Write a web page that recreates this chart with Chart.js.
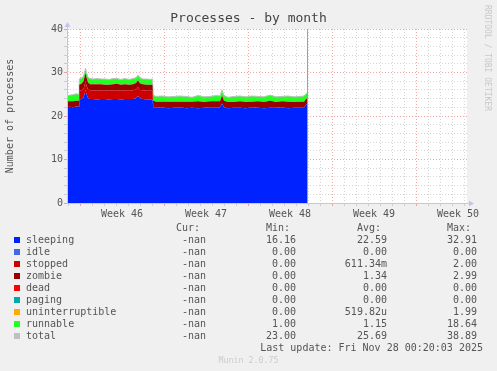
<!DOCTYPE html>
<html>
<head>
<meta charset="utf-8">
<title>Processes - by month</title>
<script src="https://cdn.jsdelivr.net/npm/chart.js@4.4.1/dist/chart.umd.min.js"></script>
<style>
    body { margin: 0; background: #f0f0f0; }
    #wrap {
        position: relative;
        width: 497px;
        height: 371px;
        font-family: 'DejaVu Sans Mono', monospace;
        font-size: 10px;
        color: #555;
    }
    #wrap canvas { position: absolute; left: 0; top: 0; }
    .t { position: absolute; white-space: pre; line-height: 12px; }
    .sw { position: absolute; width: 6px; height: 6px; }
    #rrd {
        position: absolute;
        left: 482px;
        top: 5px;
        writing-mode: vertical-rl;
        font-size: 8px;
        line-height: 11px;
        color: #c8c8c8;
    }
    #ver {
        position: absolute;
        left: 0;
        width: 497px;
        top: 355px;
        text-align: center;
        font-size: 8.3px;
        line-height: 10px;
        color: #cccccc;
    }
</style>
</head>
<body>
<div id="wrap">
    <canvas id="processes-chart" width="497" height="371"></canvas>
    <div id="rrd">RRDTOOL / TOBI OETIKER</div>
    <div id="legend"></div>
    <div id="ver">Munin 2.0.75</div>
</div>
<script>
// Zeitachse in Stunden ab Sonntag 09.11.2025 00:00 (Beginn Woche 46)
const hours = [
    -26, -20, -14, -8, -2,
    -1.5, 3, 7, 9, 11, 13, 16, 20, 26, 34, 42, 50, 58, 66, 74, 82, 90, 98, 106, 112, 116, 120, 126, 134, 140, 145,
    146.5, 152, 164, 176, 188, 200, 212, 224, 236, 248, 260, 272, 280, 284, 288, 296, 308, 320, 332, 344, 356, 368,
    380, 392, 404, 416, 428, 440, 448, 452, 455
];

const sleeping = [
    22.0, 22.1, 22.0, 22.2, 22.1,
    23.8, 23.9, 24.2, 25.0, 26.0, 25.0, 24.1, 23.9, 23.9, 23.8, 23.9, 23.9, 23.8, 23.9, 23.9, 23.8, 23.9, 23.9, 23.9,
    24.1, 24.6, 24.0, 23.9, 23.8, 23.8, 23.8,
    22.0, 21.9, 22.0, 21.8, 21.9, 22.0, 21.8, 21.9, 21.8, 21.9, 22.0, 21.9, 22.0, 22.9, 22.0, 21.8, 21.9, 21.9, 21.8,
    22.0, 21.9, 21.8, 21.9, 21.9, 22.0, 21.8, 21.9, 21.9, 21.9, 22.6, 22.9
];

const stopped = [
    0, 0, 0, 0, 0,
    2.0, 2.0, 2.0, 2.0, 2.0, 2.0, 2.0, 2.0, 2.0, 2.0, 2.0, 2.0, 2.0, 2.0, 2.0, 2.0, 2.0, 2.0, 2.0,
    2.0, 2.0, 2.0, 2.0, 2.0, 2.0, 2.0,
    0, 0, 0, 0, 0, 0, 0, 0, 0, 0, 0, 0, 0, 0, 0, 0, 0, 0, 0,
    0, 0, 0, 0, 0, 0, 0, 0, 0, 0, 0, 0
];

const zombie = [
    1.4, 1.3, 1.4, 1.3, 1.4,
    1.4, 1.5, 1.8, 1.9, 1.9, 1.9, 1.6, 1.4, 1.4, 1.5, 1.4, 1.3, 1.4, 1.4, 1.5, 1.4, 1.4, 1.3, 1.4,
    1.5, 1.6, 1.5, 1.4, 1.4, 1.4, 1.4,
    1.5, 1.4, 1.3, 1.5, 1.4, 1.3, 1.5, 1.4, 1.6, 1.3, 1.4, 1.5, 1.4, 1.8, 1.5, 1.4, 1.3, 1.5, 1.4,
    1.3, 1.5, 1.4, 1.6, 1.3, 1.4, 1.5, 1.3, 1.4, 1.4, 1.3, 1.3
];

const runnable = [
    1.3, 1.4, 1.5, 1.6, 1.5,
    1.3, 1.3, 1.2, 1.1, 1.1, 1.1, 1.2, 1.3, 1.2, 1.3, 1.2, 1.3, 1.2, 1.3, 1.2, 1.2, 1.3, 1.2, 1.3,
    1.2, 1.2, 1.3, 1.2, 1.3, 1.2, 1.3,
    1.3, 1.2, 1.3, 1.1, 1.2, 1.3, 1.2, 1.0, 1.3, 1.2, 1.1, 1.3, 1.2, 1.3, 1.2, 1.1, 1.3, 1.2, 1.2,
    1.3, 1.1, 1.2, 1.3, 1.2, 1.1, 1.3, 1.2, 1.2, 1.3, 1.2, 1.2
];

// Zeitpunkt der letzten Aktualisierung (Fr 28.11. 00:20)
const nowHour = 454;

const xMin = -26;
const xMax = 774;
const weekLabels = ['Week 46', 'Week 47', 'Week 48', 'Week 49', 'Week 50'];

// Legendentabelle
const legendNames = ['sleeping', 'idle', 'stopped', 'zombie', 'dead', 'paging', 'uninterruptible', 'runnable', 'total'];
const curValues = ['-nan', '-nan', '-nan', '-nan', '-nan', '-nan', '-nan', '-nan', '-nan'];
const minValues = ['16.16', '0.00', '0.00', '0.00', '0.00', '0.00', '0.00', '1.00', '23.00'];
const avgValues = ['22.59', '0.00', '611.34m', '1.34', '0.00', '0.00', '519.82u', '1.15', '25.69'];
const maxValues = ['32.91', '0.00', '2.00', '2.99', '0.00', '0.00', '1.99', '18.64', '38.89'];
const lastUpdate = 'Last update: Fri Nov 28 00:20:03 2025';

const seriesColors = {
    sleeping: '#0022ff', idle: '#4169e1', stopped: '#cc0000', zombie: '#990000',
    dead: '#ff0000', paging: '#00aaaa', uninterruptible: '#ffaa00', runnable: '#22ff22', total: '#c0c0c0'
};

const FONT = "'DejaVu Sans Mono', monospace";
const GRID_MINOR = 'rgba(150, 150, 150, 0.4)';
const GRID_MAJOR = 'rgba(225, 80, 80, 0.5)';
const AXIS_COLOR = '#c4c4f0';

// Wochenmitte fuer die Beschriftung, Tageslinien fuer das Raster
const weekCenters = weekLabels.map((_, i) => 84 + 168 * i);

function buildLegend() {
    const box = document.getElementById('legend');
    let html = '';
    const top0 = 222;
    const cols = [[curValues, 291], [minValues, 201], [avgValues, 110], [maxValues, 20]];
    const heads = ['Cur: ', 'Min: ', 'Avg: ', 'Max: '];

    heads.forEach((h, c) => {
        html += `<div class="t" style="top:${top0}px;right:${cols[c][1]}px">${h}</div>`;
    });

    legendNames.forEach((name, i) => {
        const top = top0 + 12 * (i + 1);
        html += `<div class="sw" style="left:14px;top:${top + 3}px;background:${seriesColors[name]}"></div>`;
        html += `<div class="t" style="left:26px;top:${top}px">${name}</div>`;
        cols.forEach(([vals, right]) => {
            html += `<div class="t" style="top:${top}px;right:${right}px">${vals[i]}</div>`;
        });
    });

    html += `<div class="t" style="top:${top0 + 12 * 10}px;right:14px">${lastUpdate}</div>`;
    box.innerHTML = html;
}

// Hintergrund, "jetzt"-Linie und Achsenpfeile
const munin = {
    id: 'munin',
    beforeDraw(chart) {
        const { ctx, chartArea: a } = chart;
        ctx.save();
        ctx.fillStyle = '#ffffff';
        ctx.fillRect(a.left, a.top, a.right - a.left, a.bottom - a.top);
        ctx.restore();
    },
    afterDatasetsDraw(chart) {
        const { ctx, chartArea: a } = chart;
        const x = Math.round(chart.scales.x.getPixelForValue(nowHour)) + 0.5;
        ctx.save();
        ctx.strokeStyle = '#a0a0a0';
        ctx.lineWidth = 1;
        ctx.beginPath();
        ctx.moveTo(x, a.top);
        ctx.lineTo(x, a.bottom);
        ctx.stroke();
        ctx.restore();
    },
    afterDraw(chart) {
        const { ctx, chartArea: a } = chart;
        const l = a.left + 0.5;
        const b = a.bottom + 0.5;
        ctx.save();
        ctx.strokeStyle = AXIS_COLOR;
        ctx.fillStyle = AXIS_COLOR;
        ctx.lineWidth = 1;
        ctx.beginPath();
        ctx.moveTo(l, b);
        ctx.lineTo(l, a.top - 3);
        ctx.moveTo(l, b);
        ctx.lineTo(a.right + 3, b);
        ctx.stroke();
        ctx.beginPath();
        ctx.moveTo(l, a.top - 7);
        ctx.lineTo(l - 3, a.top - 2);
        ctx.lineTo(l + 3, a.top - 2);
        ctx.fill();
        ctx.beginPath();
        ctx.moveTo(a.right + 7, b);
        ctx.lineTo(a.right + 2, b - 3);
        ctx.lineTo(a.right + 2, b + 3);
        ctx.fill();
        ctx.restore();
    }
};

function area(label, values, fill, extra) {
    return Object.assign({
        label,
        data: hours.map((h, i) => ({ x: h, y: values[i] })),
        backgroundColor: seriesColors[label],
        borderColor: 'transparent',
        borderWidth: 0,
        fill,
        pointRadius: 0,
        pointHitRadius: 0,
        tension: 0
    }, extra || {});
}

function initChart() {
    const canvas = document.getElementById('processes-chart');

    new Chart(canvas, {
        type: 'line',
        data: {
            datasets: [
                area('sleeping', sleeping, 'origin'),
                area('stopped', stopped, '-1'),
                area('zombie', zombie, '-1'),
                // Oberkante der Stapel = total (grau)
                area('runnable', runnable, '-1', { borderColor: seriesColors.total, borderWidth: 1 })
            ]
        },
        options: {
            responsive: false,
            animation: false,
            devicePixelRatio: 1,
            layout: { padding: { left: 0, right: 0, top: 0, bottom: 0 } },
            plugins: {
                legend: { display: false },
                tooltip: { enabled: false },
                title: {
                    display: true,
                    text: 'Processes - by month',
                    color: '#444',
                    font: { family: FONT, size: 13, weight: 'normal' },
                    padding: { top: 11, bottom: 2.4 }
                }
            },
            scales: {
                x: {
                    type: 'linear',
                    min: xMin,
                    max: xMax,
                    z: 1,
                    afterFit: s => { s.height = 168; },
                    afterBuildTicks: s => {
                        const ticks = [];
                        for (let h = -24; h <= xMax; h += 24) ticks.push(h);
                        weekCenters.forEach(c => ticks.push(c));
                        ticks.sort((a, b) => a - b);
                        s.ticks = ticks.map(v => ({ value: v }));
                    },
                    ticks: {
                        autoSkip: false,
                        maxRotation: 0,
                        padding: 2,
                        color: '#555',
                        font: { family: FONT, size: 10 },
                        callback: v => {
                            const i = weekCenters.indexOf(v);
                            return i >= 0 ? weekLabels[i] : '';
                        }
                    },
                    grid: {
                        tickLength: 3,
                        color: ctx => {
                            const v = ctx.tick ? ctx.tick.value : 0;
                            if (weekCenters.includes(v)) return 'transparent';
                            return v % 168 === 0 ? GRID_MAJOR : GRID_MINOR;
                        }
                    },
                    border: { display: false, dash: [1, 2] }
                },
                y: {
                    stacked: true,
                    min: 0,
                    max: 40,
                    z: 1,
                    afterFit: s => { s.width = 67; },
                    ticks: {
                        stepSize: 2,
                        autoSkip: false,
                        padding: 1,
                        color: '#555',
                        font: { family: FONT, size: 10 },
                        callback: v => (v % 10 === 0 ? v : '')
                    },
                    grid: {
                        tickLength: 3,
                        color: ctx => {
                            const v = ctx.tick ? ctx.tick.value : 0;
                            return v % 10 === 0 ? GRID_MAJOR : GRID_MINOR;
                        }
                    },
                    border: { display: false, dash: [1, 2] },
                    title: {
                        display: true,
                        text: 'Number of processes',
                        color: '#555',
                        font: { family: FONT, size: 10 },
                        padding: { top: 4, bottom: 0 }
                    }
                },
                // leere Achse rechts, haelt den Platz fuer den RRDtool-Schriftzug frei
                pad: {
                    type: 'linear',
                    position: 'right',
                    afterFit: s => { s.width = 30; },
                    ticks: { display: false },
                    grid: { display: false, drawTicks: false },
                    border: { display: false }
                }
            }
        },
        plugins: [munin]
    });
}

buildLegend();
initChart();
</script>
</body>
</html>
